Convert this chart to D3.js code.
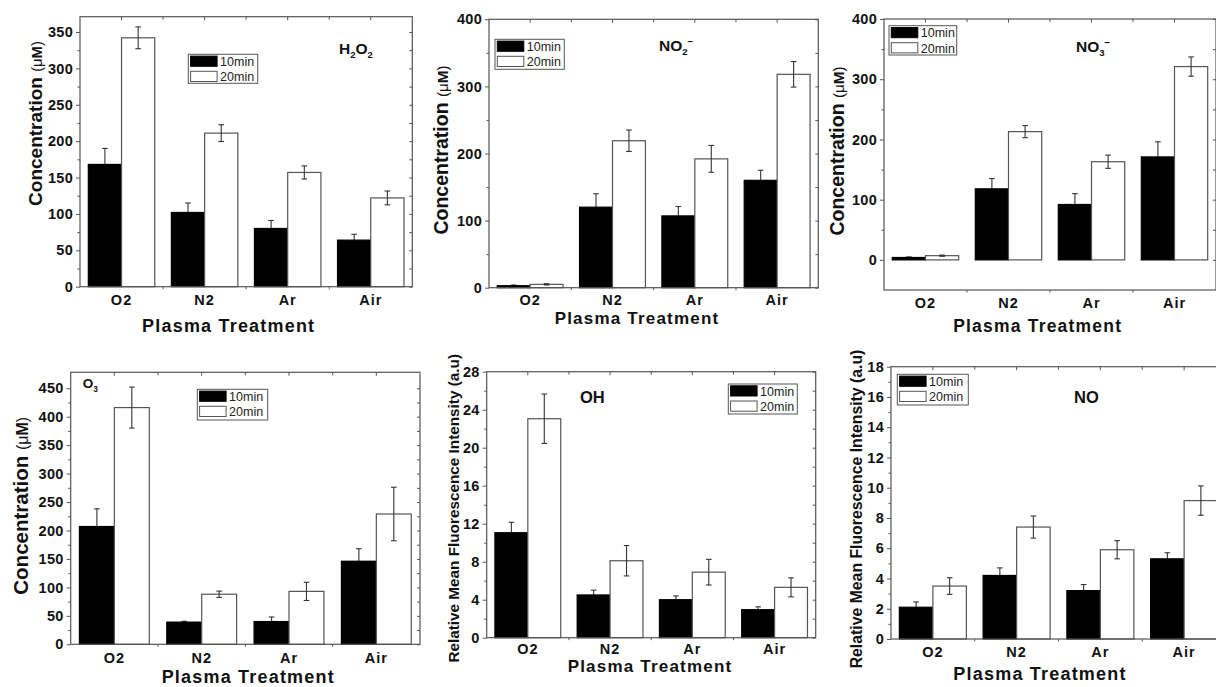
<!DOCTYPE html>
<html>
<head>
<meta charset="utf-8">
<script src="https://cdn.jsdelivr.net/npm/d3@7"></script>
<style>
  body { margin: 0; background: #fff; }
  svg { display: block; font-family: "Liberation Sans", Arial, sans-serif; }
</style>
</head>
<body>
<svg id="chart" width="1216" height="687"></svg>
<script>
// categories / series
const categories = ["O2", "N2", "Ar", "Air"];
const seriesNames = ["10min", "20min"];

// H2O2 (uM)
const h2o2_10 = [168, 102, 80, 64];
const h2o2_10_err = [22, 13, 11, 8];
const h2o2_20 = [342, 211, 157, 122];
const h2o2_20_err = [15, 11.5, 9, 9.5];
const h2o2Ticks = [0, 50, 100, 150, 200, 250, 300, 350];

// NO2- (uM)
const no2_10 = [3, 120, 107, 160];
const no2_10_err = [1, 20, 14, 15];
const no2_20 = [5, 219, 192, 318];
const no2_20_err = [1, 16, 20, 19];
const no2Ticks = [0, 100, 200, 300, 400];

// NO3- (uM)
const no3_10 = [4, 118, 92, 171];
const no3_10_err = [1, 17, 18, 25];
const no3_20 = [7, 213, 163, 321];
const no3_20_err = [1, 10, 11, 16];
const no3Ticks = [0, 100, 200, 300, 400];

// O3 (uM)
const o3_10 = [207, 39, 40, 146];
const o3_10_err = [31, 1.5, 8, 22];
const o3_20 = [416, 88, 93, 229];
const o3_20_err = [36, 5.5, 16, 47];
const o3Ticks = [0, 50, 100, 150, 200, 250, 300, 350, 400, 450];

// OH (a.u)
const oh_10 = [11.05, 4.5, 4.0, 2.95];
const oh_10_err = [1.1, 0.5, 0.4, 0.3];
const oh_20 = [23.05, 8.1, 6.9, 5.3];
const oh_20_err = [2.6, 1.6, 1.35, 1.0];
const ohTicks = [0, 4, 8, 12, 16, 20, 24, 28];

// NO (a.u)
const no_10 = [2.1, 4.2, 3.2, 5.3];
const no_10_err = [0.35, 0.5, 0.4, 0.4];
const no_20 = [3.5, 7.4, 5.9, 9.15];
const no_20_err = [0.55, 0.73, 0.6, 0.97];
const noTicks = [0, 2, 4, 6, 8, 10, 12, 14, 16, 18];

const concLabel = "Concentration";
const fluoLabel = "Relative Mean Fluorescence Intensity (a.u)";
const xLabel = "Plasma Treatment";

// panel layout
const panels = [
  { x0: 80, x1: 412.3, y0: 16.7, y1: 286.7, domain: [0, 371], ticks: h2o2Ticks,
    values: [h2o2_10, h2o2_20], errors: [h2o2_10_err, h2o2_20_err],
    title: [["H"], ["2", "sub"], ["O"], ["2", "sub"]], titleX: 339, titleY: 53.5, titleSize: 15.5,
    legend: [188.3, 54.3, 69.4, 29], ylab: "conc", ylabX: 41.5, ylabY: 123.5, ylabSize: 19,
    catY: 305, xlabX: 228.7, xlabY: 331.7, xlabSize: 18 },
  { x0: 489, x1: 818.3, y0: 19.3, y1: 287.7, domain: [0, 400], ticks: no2Ticks,
    values: [no2_10, no2_20], errors: [no2_10_err, no2_20_err],
    title: [["NO"], ["2", "sub"], ["\u2212", "sup"]], titleX: 659, titleY: 50.7, titleSize: 15.5,
    legend: [495, 39.3, 69.3, 30], ylab: "conc", ylabX: 448, ylabY: 150, ylabSize: 19.5,
    catY: 305, xlabX: 637, xlabY: 324, xlabSize: 17 },
  { x0: 884, x1: 1216, y0: 19, y1: 290, domain: [-50, 400], ticks: no3Ticks,
    values: [no3_10, no3_20], errors: [no3_10_err, no3_20_err],
    title: [["NO"], ["3", "sub"], ["\u2212", "sup"]], titleX: 1076, titleY: 51.7, titleSize: 15.5,
    legend: [889, 25.7, 67.7, 29.3], ylab: "conc", ylabX: 844, ylabY: 151, ylabSize: 19.5,
    catY: 308.3, xlabX: 1037.7, xlabY: 331.7, xlabSize: 17.5 },
  { x0: 70.7, x1: 420, y0: 372.3, y1: 644.3, domain: [0, 478], ticks: o3Ticks,
    values: [o3_10, o3_20], errors: [o3_10_err, o3_20_err],
    title: [["O"], ["3", "sub"]], titleX: 82.7, titleY: 387.7, titleSize: 13.5,
    legend: [197.3, 389.3, 70.4, 30.7], ylab: "conc", ylabX: 28.3, ylabY: 505.8, ylabSize: 20.5,
    catY: 663.3, xlabX: 248.3, xlabY: 682.5, xlabSize: 18 },
  { x0: 486.7, x1: 815.7, y0: 371.7, y1: 637.7, domain: [0, 28], ticks: ohTicks,
    values: [oh_10, oh_20], errors: [oh_10_err, oh_20_err],
    title: [["OH"]], titleX: 580, titleY: 403.3, titleSize: 16.5,
    legend: [728.3, 384, 69, 30], ylab: "fluo", ylabX: 459, ylabY: 508.3, ylabSize: 15.3,
    catY: 653.5, xlabX: 650, xlabY: 672, xlabSize: 17 },
  { x0: 891, x1: 1226, y0: 366.7, y1: 639, domain: [0, 18], ticks: noTicks,
    values: [no_10, no_20], errors: [no_10_err, no_20_err],
    title: [["NO"]], titleX: 1074, titleY: 402.7, titleSize: 16.5,
    legend: [897.3, 374.3, 71, 30.7], ylab: "fluo", ylabX: 862, ylabY: 509, ylabSize: 15.8,
    catY: 657.3, xlabX: 1040, xlabY: 680, xlabSize: 18 }
];

const frameColor = "#555";
const errColor = "#333";
const svg = d3.select("#chart");

function drawErrorBars(sel, rows, x, xs, y) {
  const eb = sel.selectAll("g")
    .data(rows)
    .join("g")
      .attr("transform", d => `translate(${x(d.c) + xs(d.s) + xs.bandwidth() / 2},0)`);
  eb.append("line")
    .attr("y1", d => y(d.v + d.e)).attr("y2", d => y(d.v - d.e));
  eb.append("line")
    .attr("x1", -2.8).attr("x2", 2.8)
    .attr("y1", d => y(d.v + d.e)).attr("y2", d => y(d.v + d.e));
  eb.append("line")
    .attr("x1", -2.8).attr("x2", 2.8)
    .attr("y1", d => y(d.v - d.e)).attr("y2", d => y(d.v - d.e));
}

function drawPanel(p) {
  const g = svg.append("g");

  const x = d3.scaleBand().domain(categories).range([p.x0, p.x1]);
  const bw = x.bandwidth();
  const xs = d3.scaleBand().domain(seriesNames).range([0.1 * bw, 0.9 * bw]);
  const y = d3.scaleLinear().domain(p.domain).range([p.y1, p.y0]);

  const rows = categories.flatMap((c, i) =>
    seriesNames.map((s, j) => ({ c, s, v: p.values[j][i], e: p.errors[j][i] })));

  // 10min error bars sit behind the black bars (lower half hidden)
  drawErrorBars(g.append("g").attr("stroke", errColor).attr("stroke-width", 1.1),
    rows.filter(d => d.s === "10min"), x, xs, y);

  // bars
  g.append("g").selectAll("rect")
    .data(rows)
    .join("rect")
      .attr("x", d => x(d.c) + xs(d.s))
      .attr("y", d => y(Math.max(d.v, 0)))
      .attr("width", xs.bandwidth())
      .attr("height", d => Math.abs(y(0) - y(d.v)))
      .attr("fill", d => d.s === "10min" ? "#000" : "#fff")
      .attr("stroke", d => d.s === "10min" ? "#000" : frameColor)
      .attr("stroke-width", 1.2);

  drawErrorBars(g.append("g").attr("stroke", errColor).attr("stroke-width", 1.1),
    rows.filter(d => d.s === "20min"), x, xs, y);

  // y axes
  const minor = d3.pairs(p.ticks).map(([a, b]) => (a + b) / 2);
  const left = g.append("g")
    .attr("transform", `translate(${p.x0},0)`)
    .call(d3.axisLeft(y).tickValues(p.ticks).tickSize(4).tickPadding(3));
  left.select(".domain").remove();
  left.selectAll("line").attr("stroke", frameColor);
  left.selectAll("text")
    .attr("font-size", 14.5).attr("font-weight", "bold")
    .attr("letter-spacing", 0.3).attr("fill", "#111")
    .attr("font-family", "Liberation Sans, Arial, sans-serif");
  const leftMinor = g.append("g")
    .attr("transform", `translate(${p.x0},0)`)
    .call(d3.axisLeft(y).tickValues(minor).tickSize(2.5).tickFormat(""));
  leftMinor.select(".domain").remove();
  leftMinor.selectAll("line").attr("stroke", frameColor);

  const right = g.append("g")
    .attr("transform", `translate(${p.x1},0)`)
    .call(d3.axisLeft(y).tickValues(p.ticks.concat(minor)).tickSize(3).tickFormat(""));
  right.select(".domain").remove();
  right.selectAll("line").attr("stroke", frameColor);

  // x ticks: centres and boundaries on top (inward), boundaries below (outward)
  const bounds = categories.slice(1).map(c => x(c));
  g.append("g").selectAll("line")
    .data(categories)
    .join("line")
      .attr("x1", c => x(c) + bw / 2).attr("x2", c => x(c) + bw / 2)
      .attr("y1", p.y0).attr("y2", p.y0 + 3.5)
      .attr("stroke", frameColor);
  g.append("g").selectAll("line")
    .data(bounds)
    .join("line")
      .attr("x1", d => d).attr("x2", d => d)
      .attr("y1", p.y0).attr("y2", p.y0 + 3)
      .attr("stroke", frameColor);
  g.append("g").selectAll("line")
    .data(bounds)
    .join("line")
      .attr("x1", d => d).attr("x2", d => d)
      .attr("y1", p.y1).attr("y2", p.y1 + 2.5)
      .attr("stroke", frameColor);

  // frame
  g.append("rect")
    .attr("x", p.x0).attr("y", p.y0)
    .attr("width", p.x1 - p.x0).attr("height", p.y1 - p.y0)
    .attr("fill", "none").attr("stroke", frameColor).attr("stroke-width", 1.2);

  // category labels
  g.append("g").selectAll("text")
    .data(categories)
    .join("text")
      .attr("x", c => x(c) + bw / 2)
      .attr("y", p.catY)
      .attr("text-anchor", "middle")
      .attr("font-size", 14.5).attr("font-weight", "bold")
      .attr("letter-spacing", 1).attr("fill", "#111")
      .text(c => c);

  // x title
  g.append("text")
    .attr("x", p.xlabX).attr("y", p.xlabY)
    .attr("text-anchor", "middle")
    .attr("font-size", p.xlabSize).attr("font-weight", "bold")
    .attr("letter-spacing", 1.2).attr("fill", "#111")
    .text(xLabel);

  // y title
  const yt = g.append("text")
    .attr("transform", `translate(${p.ylabX},${p.ylabY}) rotate(-90)`)
    .attr("text-anchor", "middle")
    .attr("fill", "#111");
  if (p.ylab === "conc") {
    yt.append("tspan").attr("font-size", p.ylabSize).attr("font-weight", "bold").text(concLabel + " ");
    yt.append("tspan").attr("font-size", p.ylabSize * 0.78).text("(\u03bc");
    yt.append("tspan").attr("font-size", p.ylabSize * 0.78).attr("font-weight", "bold").text("M");
    yt.append("tspan").attr("font-size", p.ylabSize * 0.78).text(")");
  } else {
    yt.attr("font-size", p.ylabSize).attr("font-weight", "bold").text(fluoLabel);
  }

  // species label
  const tt = g.append("text")
    .attr("x", p.titleX).attr("y", p.titleY)
    .attr("font-size", p.titleSize).attr("font-weight", "bold").attr("fill", "#111");
  let shift = 0;
  p.title.forEach(([t, kind]) => {
    const target = kind === "sub" ? 4 : kind === "sup" ? -6 : 0;
    const ts = tt.append("tspan").attr("dy", target - shift).text(t);
    if (kind) ts.attr("font-size", p.titleSize * 0.62);
    shift = target;
  });

  // legend
  const [lx, ly, lw, lh] = p.legend;
  const lg = g.append("g").attr("transform", `translate(${lx},${ly})`);
  lg.append("rect")
    .attr("width", lw).attr("height", lh)
    .attr("fill", "#fff").attr("stroke", frameColor).attr("stroke-width", 1);
  const item = lg.selectAll("g.item")
    .data(seriesNames)
    .join("g")
      .attr("class", "item")
      .attr("transform", (d, i) => `translate(2.3,${1.8 + i * 15.2})`);
  item.append("rect")
    .attr("width", 26.5).attr("height", 10.2)
    .attr("fill", (d, i) => i === 0 ? "#000" : "#fff")
    .attr("stroke", (d, i) => i === 0 ? "#000" : frameColor)
    .attr("stroke-width", 1);
  item.append("text")
    .attr("x", 29.5).attr("y", 9.8)
    .attr("font-size", 12.5).attr("fill", "#222")
    .text(d => d);
}

panels.forEach(drawPanel);
</script>
</body>
</html>
